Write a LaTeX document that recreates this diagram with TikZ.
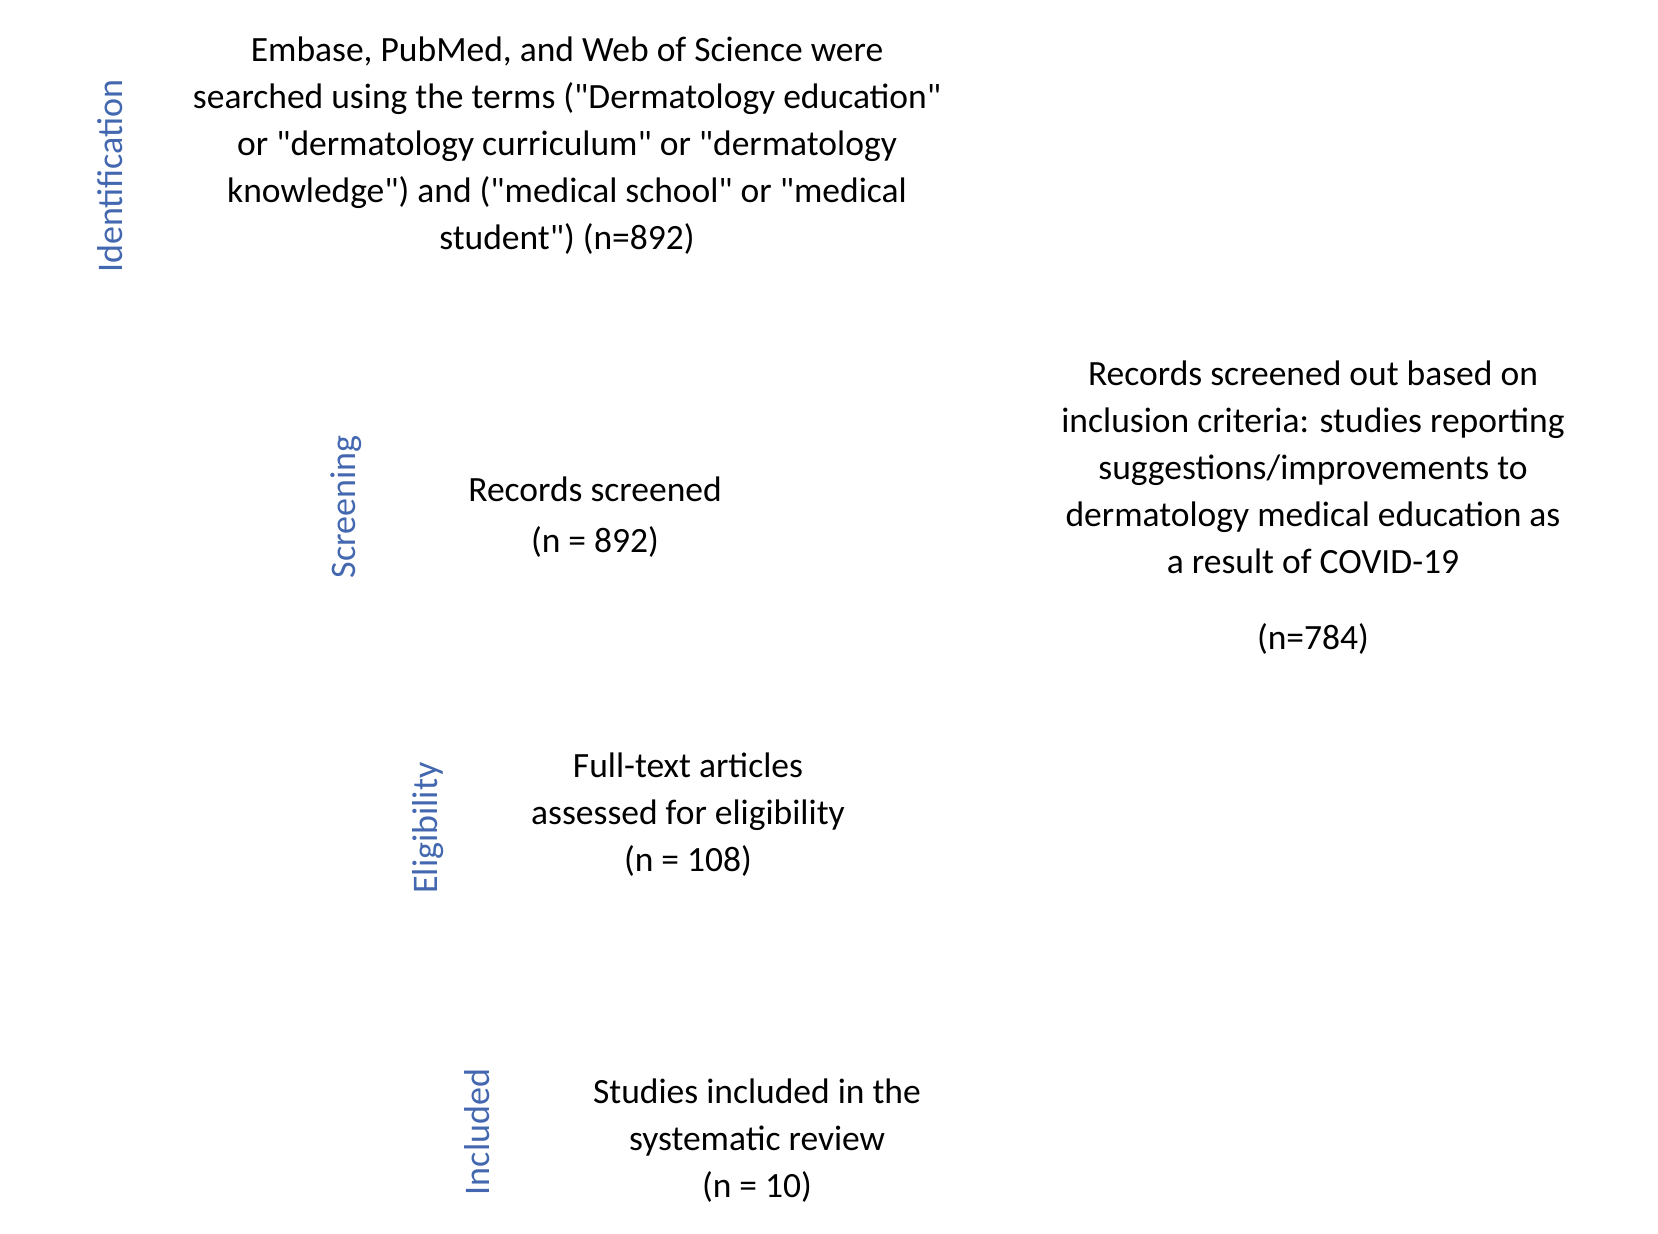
\documentclass[tikz,border=0pt]{standalone}
\usepackage{fontspec}
\setmainfont{Carlito}[Ligatures=TeXOff]
\definecolor{stageblue}{RGB}{68,104,176}
\begin{document}
\begin{tikzpicture}[x=1pt,y=-1pt,
  txt/.style={align=center,inner sep=0pt,font=\fontsize{35.5}{47}\selectfont,text=black},
  stage/.style={rotate=90,inner sep=0pt,font=\fontsize{36}{40}\selectfont,text=stageblue}]
\useasboundingbox[fill=white] (0,0) rectangle (1658,1234);
\node[stage] (lid) at (110,176) {Identification};
\node[stage] (lsc) at (346,507) {Screening};
\node[stage] (lel) at (428,828) {Eligibility};
\node[stage] (lin) at (477,1132) {Included};
\node[txt] (ident) at (567,146) {Embase, PubMed, and Web of Science were\\searched using the terms ("Dermatology education"\\or "dermatology curriculum" or "dermatology\\knowledge") and ("medical school" or "medical\\student") (n=892)};
\node[txt,font=\fontsize{35.5}{51}\selectfont] (screen) at (595,517) {Records screened\\(n = 892)};
\node[txt] (excl) at (1313,508) {Records screened out based on\\inclusion criteria: studies reporting\\suggestions/improvements to\\dermatology medical education as\\a result of COVID-19\\[29pt](n=784)};
\node[txt] (full) at (688,815) {Full-text articles\\assessed for eligibility\\(n = 108)};
\node[txt] (incl) at (757,1141) {Studies included in the\\systematic review\\(n = 10)};
\end{tikzpicture}
\end{document}
